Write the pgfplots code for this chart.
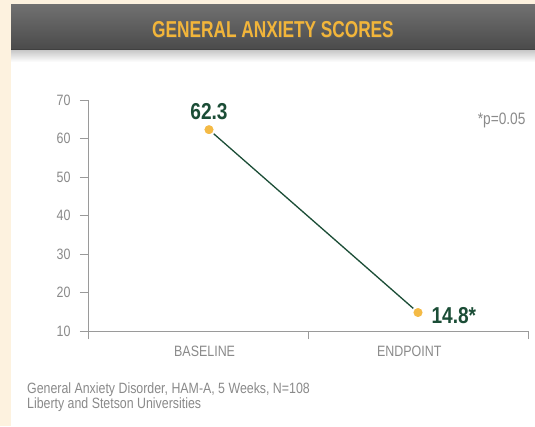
\documentclass[border=0pt]{standalone}
\usepackage{pgfplots}
\pgfplotsset{compat=1.18}
\usepackage{fontspec}
\setmainfont[FakeStretch=0.83]{Liberation Sans}
\newfontfamily\titlefont[FakeStretch=0.75]{Liberation Sans}
\definecolor{beige}{HTML}{FDF2DF}
\definecolor{titleorange}{HTML}{F2B53A}
\definecolor{dkgreen}{HTML}{1B4D36}
\definecolor{mk}{HTML}{F4BA45}
\definecolor{axgray}{HTML}{9A9A9A}
\definecolor{txtgray}{HTML}{8A8A8A}
\definecolor{bartop}{HTML}{707070}
\definecolor{barbot}{HTML}{4A4A4A}
\begin{document}
\begin{tikzpicture}
\useasboundingbox (0pt,0pt) rectangle (535pt,426pt);
\fill[beige] (0pt,0pt) rectangle (535pt,426pt);
\fill[white] (11pt,0pt) rectangle (535pt,376pt);
\shade[top color=black!22, bottom color=white] (11pt,376pt) rectangle (535pt,364pt);
\shade[top color=bartop, bottom color=barbot] (11pt,376pt) rectangle (535pt,421pt);
\draw[black!75, line width=1pt] (11pt,376pt)--(535pt,376pt);
\node[text=black!60, opacity=0.6, font=\titlefont\bfseries\fontsize{23}{25}\selectfont] at (273.6pt,395.6pt) {GENERAL ANXIETY SCORES};
\node[text=titleorange, font=\titlefont\bfseries\fontsize{23}{25}\selectfont] at (273pt,396pt) {GENERAL ANXIETY SCORES};
\begin{axis}[
  at={(88pt,95pt)}, anchor=south west,
  scale only axis, width=440pt, height=231pt,
  xmin=0, xmax=2, ymin=10, ymax=70,
  axis x line=bottom, axis y line=left,
  axis line style={-, axgray, line width=0.9pt},
  xtick={0,1,2}, xticklabels={},
  extra x ticks={0.53,1.46}, extra x tick labels={BASELINE,ENDPOINT},
  extra x tick style={major tick length=0pt, xticklabel style={yshift=-11pt}},
  ytick={10,20,...,70},
  tick align=outside, major tick length=8pt,
  tick style={axgray, line width=0.9pt},
  /pgf/number format/assume math mode=true,
  yticklabel style={text=txtgray, font=\fontsize{15}{17}\selectfont, xshift=-6pt},
  xticklabel style={text=txtgray, font=\fontsize{15}{17}\selectfont},
  clip=false,
]
\addplot[dkgreen, line width=1.3pt, mark=*, mark size=5.5pt,
  mark options={fill=mk, draw=white, line width=1.5pt}]
  coordinates {(0.55,62.3) (1.5,14.8)};
\node[text=dkgreen, font=\bfseries\fontsize{23}{25}\selectfont] at (axis cs:0.55,62.3) [yshift=18pt] {62.3};
\node[text=dkgreen, font=\bfseries\fontsize{23}{25}\selectfont, anchor=west] at (axis cs:1.5,14.8) [xshift=10pt, yshift=-3pt] {14.8*};
\end{axis}
\node[text=txtgray, anchor=east, font=\fontsize{16.5}{18}\selectfont] at (529pt,306pt) {*p=0.05};
\node[text=txtgray, anchor=west, align=left, font=\fontsize{14.9}{15}\selectfont, inner sep=0pt] at (27pt,28.5pt) {General Anxiety Disorder, HAM-A, 5 Weeks, N=108\\Liberty and Stetson Universities};
\end{tikzpicture}
\end{document}
